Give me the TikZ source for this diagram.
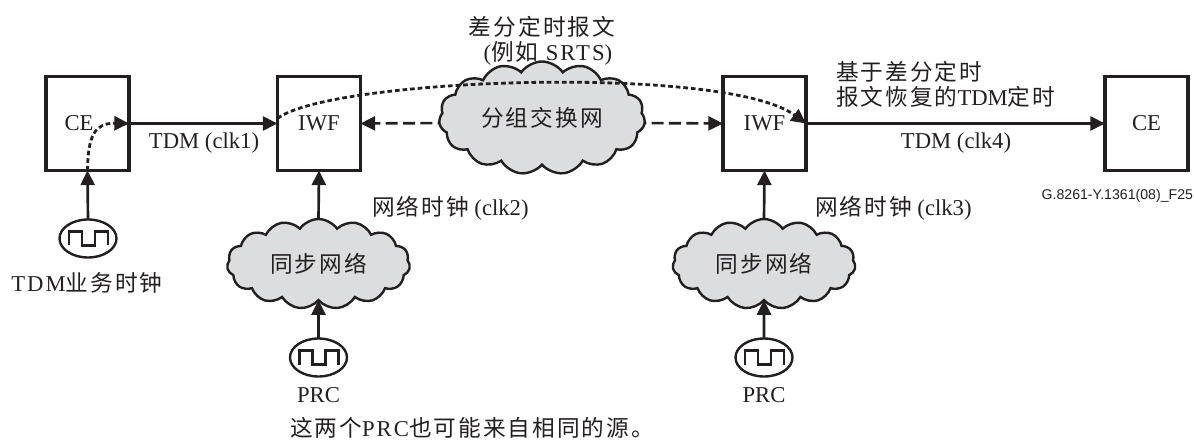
\documentclass[tikz,border=0pt]{standalone}
\usepackage{fontspec}
\setmainfont{Liberation Serif}
\newfontfamily\cjk[LetterSpace=9]{Noto Sans CJK SC}
\newfontfamily\lsp[LetterSpace=9]{Liberation Serif}
\newfontfamily\helv{Liberation Sans}
\usetikzlibrary{arrows.meta,shapes.geometric,shapes.symbols,backgrounds}
\definecolor{ink}{HTML}{231F20}
\definecolor{cloudfill}{HTML}{DCDDDE}
\tikzset{
  x=0.75pt,y=-0.75pt,
  every node/.style={text=ink,inner sep=0pt,outer sep=0pt,font=\fontsize{17}{20}\selectfont},
  boxnode/.style={draw=ink,line width=2.3pt,fill=white,minimum width=83*0.75pt,minimum height=94*0.75pt},
  netcloud/.style={cloud,cloud puffs=15,cloud puff arc=110,aspect=1.9,draw=ink,line width=1.8pt,fill=cloudfill},
  clocknode/.style={ellipse,draw=ink,line width=1.8pt,fill=white,minimum width=57*0.75pt,minimum height=38*0.75pt},
  wave/.style={draw=ink,line width=1.8pt,line join=miter},
  tipped/.style={-{Triangle[length=11pt,width=10.5pt]}},
  conn/.style={draw=ink,line width=2pt},
  dashconn/.style={conn,dash pattern=on 9pt off 4pt},
  dotconn/.style={draw=ink,line width=2.1pt,dash pattern=on 3.5pt off 2.2pt},
}
\newcommand{\clockwave}[1]{\draw[wave] ([shift={(-19,7)}]#1.center) -- ++(0,-14) -- ++(13,0) -- ++(0,14) -- ++(13,0) -- ++(0,-14) -- ++(13,0) -- ++(0,14);}
\begin{document}
\begin{tikzpicture}
\useasboundingbox (0,0) rectangle (1194,441);
% clouds
\node[netcloud,minimum width=206*0.75pt,minimum height=113*0.75pt] (psn) at (542,118) {\raisebox{-1.5pt}{\cjk 分组交换网}};
\node[netcloud,minimum width=183*0.75pt,minimum height=90*0.75pt] (syncl) at (318.5,264) {\cjk 同步网络};
\node[netcloud,minimum width=183*0.75pt,minimum height=90*0.75pt] (syncr) at (764,264) {\cjk 同步网络};
% boxes
\node[boxnode] (cea) at (87.5,123.5) {};
\node (cetext) at (79,123) {CE};
\node[boxnode] (iwfa) at (319,123.5) {IWF};
\node[boxnode] (iwfb) at (764.5,123.5) {IWF};
\node[boxnode] (ceb) at (1146.5,123.5) {CE};
% clocks
\node[clocknode] (clka) at (88,238.5) {};
\node[clocknode] (clkb) at (318.5,357.5) {};
\node[clocknode] (clkc) at (764,357.5) {};
\clockwave{clka}\clockwave{clkb}\clockwave{clkc}
% connectors
\draw[conn,tipped] (cea.east) -- (iwfa.west);
\draw[conn,tipped] (iwfb.east) -- (ceb.west);
\begin{scope}[on background layer]
\draw[dashconn,tipped] (psn.center -| psn.west) ++(10,5) -- (iwfa.east);
\draw[dashconn,tipped] (psn.center -| psn.east) ++(-10,5) -- (iwfb.west);
\end{scope}
\draw[conn,tipped] (clka.north) -- (cea.south);
\draw[conn,tipped] (syncl.north) -- (iwfa.south);
\draw[conn,tipped] (syncr.north) -- (iwfb.south);
\draw[conn,tipped] (clkb.north) -- (syncl.south);
\draw[conn,tipped] (clkc.north) -- (syncr.south);
% dotted timing paths
\draw[dotconn,tipped] ([yshift=3.75pt]iwfa.west) .. controls (330,78) and (725,64) .. (iwfb.east);
\draw[dotconn,tipped] (cea.south) .. controls (88,135) and (95,123) .. (cea.east);
% labels
\node (l1) at (542,27) {\cjk 差分定时报文};
\node (l2) at (548,53) {(\cjk 例如 \lsp SRTS\rmfamily )};
\node[anchor=west] (l3) at (836,72) {\cjk 基于差分定时};
\node[anchor=west] (l4) at (836,97) {\cjk 报文恢复的\rmfamily TDM\cjk 定时};
\node (l5) at (204,143) {TDM (clk1)};
\node (l6) at (956,143) {TDM (clk4)};
\node[anchor=west] (l7) at (372,208) {\cjk 网络时钟\rmfamily\ (clk2)};
\node[anchor=west] (l8) at (815,208) {\cjk 网络时钟\rmfamily\ (clk3)};
\node[anchor=east,font=\helv\fontsize{10.6}{12}\selectfont] (l9) at (1193,196) {G.8261-Y.1361(08)\_F25};
\node (l10) at (87,283) {\lsp TDM\cjk 业务时钟};
\node (l11) at (318.5,395) {PRC};
\node (l12) at (764,395) {PRC};
\node[anchor=west] (l13) at (290,428) {\cjk 这两个\lsp PRC\cjk 也可能来自相同的源。};
\end{tikzpicture}
\end{document}
